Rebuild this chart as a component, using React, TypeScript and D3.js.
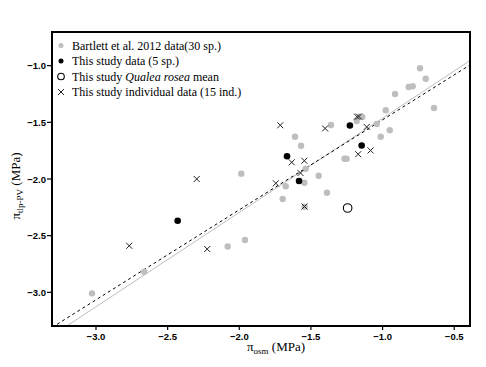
import React from "react";
import * as d3 from "d3";

const bartlettX = [-0.739, -0.699, -0.818, -0.79, -0.913, -0.641, -0.978, -1.142, -1.181, -1.36, -1.041, -0.95, -1.013, -1.569, -1.611, -1.251, -1.266, -1.537, -1.446, -1.546, -1.676, -1.697, -1.388, -1.986, -1.96, -2.081, -2.663, -3.028, -1.544];
const bartlettY = [-1.023, -1.115, -1.188, -1.182, -1.25, -1.373, -1.394, -1.453, -1.488, -1.523, -1.515, -1.57, -1.627, -1.706, -1.627, -1.821, -1.821, -1.909, -1.971, -2.033, -2.064, -2.177, -2.121, -1.953, -2.538, -2.596, -2.818, -3.009, -2.244];

const studyX = [-1.228, -1.146, -1.667, -1.583, -2.43];
const studyY = [-1.528, -1.704, -1.799, -2.018, -2.368];

const qualeaX = [-1.244];
const qualeaY = [-2.256];

const indivX = [-1.714, -1.401, -1.179, -1.165, -1.111, -1.084, -1.17, -1.634, -1.546, -1.573, -1.745, -2.297, -1.545, -2.768, -2.224];
const indivY = [-1.526, -1.554, -1.45, -1.449, -1.541, -1.748, -1.781, -1.853, -1.839, -1.947, -2.038, -2.0, -2.243, -2.589, -2.618];

const studyFit = { slope: 0.794, intercept: -0.684 };
const bartlettFit = { slope: 0.832, intercept: -0.631 };

const xTicks = [-3.0, -2.5, -2.0, -1.5, -1.0, -0.5];
const yTicks = [-3.0, -2.5, -2.0, -1.5, -1.0];

const legendLabels = [
  "Bartlett et al. 2012 data(30 sp.)",
  "This study data (5 sp.)",
  "This study Qualea rosea mean",
  "This study individual data (15 ind.)",
];

const W = 486;
const H = 367;
const L = 52, R = 470, T = 32, B = 326;
const GRAY = "#bebebe";
const fmt = (v: number) => v.toFixed(1).replace("-", "\u2212");

export default function App() {
  const x = d3.scaleLinear().domain([-3.307, -0.39]).range([L, R]);
  const y = d3.scaleLinear().domain([-3.297, -0.703]).range([B, T]);
  const dom = x.domain();
  const fitPath = (f: { slope: number; intercept: number }) =>
    d3
      .line<number>()
      .x((d) => x(d))
      .y((d) => y(f.slope * d + f.intercept))(dom) || "";

  const cross = (cx: number, cy: number, s: number) =>
    `M${cx - s},${cy - s}L${cx + s},${cy + s}M${cx - s},${cy + s}L${cx + s},${cy - s}`;

  const lx = 61, tx = 72, ly0 = 45.5, ldy = 15.5;
  const serif = "'Liberation Serif', 'Times New Roman', serif";
  const sans = "'Liberation Sans', Arial, sans-serif";

  return (
    <svg width={W} height={H} style={{ position: "absolute", left: 0, top: 0, background: "#fff" }}>
      <defs>
        <clipPath id="plotclip">
          <rect x={L} y={T} width={R - L} height={B - T} />
        </clipPath>
      </defs>
      <rect x={0} y={0} width={W} height={H} fill="#fff" />
      <g clipPath="url(#plotclip)">
        <path d={fitPath(bartlettFit)} stroke={GRAY} strokeWidth={1} fill="none" />
        <path d={fitPath(studyFit)} stroke="#000" strokeWidth={1} strokeDasharray="3,3" fill="none" />
        {bartlettX.map((v, i) => (
          <circle key={"b" + i} cx={x(v)} cy={y(bartlettY[i])} r={3.2} fill={GRAY} />
        ))}
        {indivX.map((v, i) => (
          <path key={"c" + i} d={cross(x(v), y(indivY[i]), 3)} stroke="#222" strokeWidth={1} fill="none" />
        ))}
        {studyX.map((v, i) => (
          <circle key={"s" + i} cx={x(v)} cy={y(studyY[i])} r={3.3} fill="#000" />
        ))}
        {qualeaX.map((v, i) => (
          <circle key={"q" + i} cx={x(v)} cy={y(qualeaY[i])} r={4.3} fill="none" stroke="#000" strokeWidth={1.1} />
        ))}
      </g>
      <rect x={L} y={T} width={R - L} height={B - T} fill="none" stroke="#000" strokeWidth={2} />
      {xTicks.map((t) => (
        <g key={"xt" + t}>
          <line x1={x(t)} x2={x(t)} y1={B} y2={B + 4} stroke="#000" strokeWidth={1.2} />
          <text x={x(t)} y={B + 14} textAnchor="middle" fontFamily={sans} fontWeight="bold" fontSize={9.5}>
            {fmt(t)}
          </text>
        </g>
      ))}
      {yTicks.map((t) => (
        <g key={"yt" + t}>
          <line x1={L - 5} x2={L} y1={y(t)} y2={y(t)} stroke="#000" strokeWidth={1.2} />
          <text x={L - 6} y={y(t) + 3.5} textAnchor="end" fontFamily={sans} fontWeight="bold" fontSize={9.5}>
            {fmt(t)}
          </text>
        </g>
      ))}
      <text x={276} y={351} textAnchor="middle" fontFamily={serif} fontSize={13}>
        π<tspan fontSize={9} dy={3}>osm</tspan>
        <tspan dy={-3}> (MPa)</tspan>
      </text>
      <text
        transform={`translate(20,186) rotate(-90)`}
        textAnchor="middle"
        fontFamily={serif}
        fontSize={13}
      >
        π<tspan fontSize={9} dy={3}>tlp-PV</tspan>
        <tspan dy={-3}> (MPa)</tspan>
      </text>
      <g fontFamily={serif} fontSize={12}>
        <circle cx={lx} cy={ly0} r={2.5} fill={GRAY} />
        <text x={tx} y={ly0 + 4}>{legendLabels[0]}</text>
        <circle cx={lx} cy={ly0 + ldy} r={2.5} fill="#000" />
        <text x={tx} y={ly0 + ldy + 4}>{legendLabels[1]}</text>
        <circle cx={lx} cy={ly0 + 2 * ldy} r={3.3} fill="none" stroke="#000" strokeWidth={1.1} />
        <text x={tx} y={ly0 + 2 * ldy + 4}>
          This study <tspan fontStyle="italic">Qualea rosea</tspan> mean
        </text>
        <path d={cross(lx, ly0 + 3 * ldy, 3)} stroke="#222" strokeWidth={1} fill="none" />
        <text x={tx} y={ly0 + 3 * ldy + 4}>{legendLabels[3]}</text>
      </g>
    </svg>
  );
}
